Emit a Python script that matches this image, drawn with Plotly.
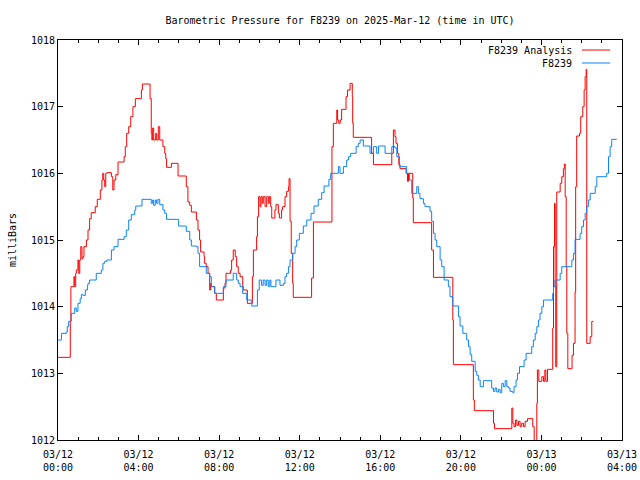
import pandas as pd
import plotly.graph_objects as go

# Hours since 2025-03-12 00:00 UTC and pressure (mb)
red_hours = [0, 0.61, 0.64, 0.79, 0.83, 0.88, 0.91, 0.99, 1.03, 1.08, 1.13, 1.19, 1.24, 1.29, 1.41,
             1.49, 1.57, 1.65, 1.85, 1.95, 2.10, 2.18, 2.22, 2.27, 2.32, 2.37, 2.43, 2.65, 2.72, 2.78,
             2.87, 2.98, 3.28, 3.34, 3.41, 3.51, 3.61, 3.72, 3.84, 4.14, 4.19, 4.57, 4.63, 4.66, 4.70,
             4.75, 4.85, 4.90, 4.98, 5.05, 5.21, 5.30, 5.35, 5.39, 5.63, 5.96, 6.37, 6.45, 6.54, 6.62,
             6.87, 6.95, 7.03, 7.08, 7.25, 7.28, 7.36, 7.45, 7.53, 7.58, 7.61, 7.78, 7.86,
             8.21, 8.29, 8.34, 8.57, 8.62, 8.70, 8.80, 8.87, 8.95, 9.04, 9.17, 9.20, 9.40, 9.65, 9.70,
             9.86, 9.90, 9.96, 10.03, 10.08, 10.14, 10.19, 10.28, 10.36, 10.44, 10.49, 10.56, 10.61,
             10.77, 10.82, 10.94, 10.99, 11.10, 11.15, 11.27, 11.35, 11.44, 11.47, 11.52, 11.58, 11.65,
             11.68, 12.59, 12.68, 13.60, 13.67, 13.84, 13.88, 13.94, 14.01, 14.08, 14.30, 14.37, 14.50,
             14.61, 14.63, 14.66, 15.57, 15.66, 16.57, 16.65, 16.73, 16.78, 16.85, 16.92, 16.98, 17.28,
             17.35, 17.40, 17.61, 17.64, 18.55, 18.64, 19.60, 19.63, 20.62, 20.67, 21.62, 21.67, 22.53,
             22.58, 22.64, 22.71, 22.78, 22.86, 22.94, 23.02, 23.11, 23.19, 23.31, 23.57, 23.64, 23.77,
             23.80, 23.87, 24.02, 24.10, 24.17, 24.22, 24.30, 24.56, 24.60, 24.65, 24.68, 24.71, 24.76,
             24.93, 25.01, 25.09, 25.14, 25.18, 25.23, 25.26, 25.31, 25.52, 25.59, 25.67, 25.70, 25.75,
             25.89, 25.95, 26.05, 26.12, 26.17, 26.22, 26.25, 26.42, 26.50, 26.58]
red_mb = [1013.24, 1013.78, 1014.30, 1014.45, 1014.30, 1014.50, 1014.55, 1014.70, 1014.50, 1014.70,
          1014.90, 1014.72, 1014.75, 1014.90, 1015.00, 1015.15, 1015.32, 1015.41, 1015.50, 1015.61,
          1015.75, 1015.90, 1016.00, 1015.90, 1015.80, 1016.00, 1016.01, 1015.95, 1015.75, 1015.90,
          1015.98, 1016.17, 1016.25, 1016.40, 1016.60, 1016.70, 1016.85, 1017.00, 1017.12, 1017.25,
          1017.34, 1017.12, 1016.60, 1016.50, 1016.68, 1016.50, 1016.60, 1016.50, 1016.70, 1016.50,
          1016.40, 1016.30, 1016.22, 1016.09, 1016.15, 1015.96, 1015.80, 1015.57, 1015.52, 1015.42,
          1015.30, 1015.15, 1015.00, 1014.82, 1014.75, 1014.65, 1014.60, 1014.50, 1014.25, 1014.35,
          1014.30, 1014.20, 1014.10,
          1014.28, 1014.35, 1014.50, 1014.55, 1014.70, 1014.85, 1014.75, 1014.60, 1014.50, 1014.45,
          1014.30, 1014.25, 1014.05, 1014.45, 1014.85, 1015.05, 1015.35, 1015.65, 1015.50, 1015.65,
          1015.55, 1015.65, 1015.50, 1015.65, 1015.55, 1015.65, 1015.50, 1015.33, 1015.45, 1015.53,
          1015.40, 1015.33, 1015.45, 1015.50, 1015.65, 1015.73, 1015.80, 1015.92, 1015.28, 1014.80,
          1014.35, 1014.14, 1014.43, 1015.27, 1016.40, 1016.75, 1016.95, 1016.80, 1016.75, 1016.80,
          1016.96, 1017.15, 1017.25, 1017.35, 1017.15, 1016.75, 1016.54, 1016.30, 1016.13, 1016.30,
          1016.65, 1016.55, 1016.45, 1016.30, 1016.13, 1016.07, 1016.00, 1015.88, 1016.00, 1015.63,
          1015.26, 1014.85, 1014.44, 1013.80, 1013.13, 1012.60, 1012.44, 1012.25, 1012.17, 1012.48,
          1012.25, 1012.20, 1012.30, 1012.22, 1012.28, 1012.20, 1012.25, 1012.20, 1012.28, 1012.32,
          1012.20, 1011.90, 1012.55, 1013.05, 1012.88, 1012.95, 1012.88, 1013.05, 1012.88, 1013.06,
          1013.68, 1014.90, 1015.55, 1014.30, 1013.10, 1015.72, 1015.85, 1015.95, 1016.07, 1016.14,
          1015.65, 1014.60, 1013.60, 1013.07, 1013.27, 1013.45, 1014.22, 1015.80, 1016.56, 1016.60,
          1016.85, 1017.00, 1017.25, 1017.45, 1017.56, 1013.45, 1013.55, 1013.78, 1013.78]

blue_hours = [0, 0.17, 0.41, 0.46, 0.53, 0.66, 0.83, 0.91, 0.99, 1.10, 1.16, 1.24, 1.36, 1.46, 1.49,
              1.57, 1.90, 2.15, 2.23, 2.32, 2.43, 2.65, 2.78, 2.98, 3.28, 3.39, 3.51, 3.64, 3.81, 3.86,
              4.17, 4.63, 4.70, 4.75, 4.83, 4.90, 4.96, 5.05, 5.21, 5.30, 5.39, 5.99, 6.37, 6.54, 6.62,
              6.87, 6.95, 7.03, 7.36, 7.53, 7.61, 7.78,
              8.21, 8.34, 8.70, 8.87, 8.95, 9.04, 9.17, 9.37, 9.62, 9.90, 9.99, 10.11, 10.19, 10.28,
              10.36, 10.44, 10.52, 10.57, 10.82, 11.02, 11.19, 11.27, 11.35, 11.44, 11.52, 11.65,
              11.77, 11.85, 11.98, 12.18, 12.35, 12.56, 12.71, 12.92, 13.09, 13.21, 13.45, 13.54,
              13.92, 14.00, 14.17, 14.33, 14.42, 14.53, 14.80, 14.91, 15.00, 15.16, 15.49, 15.66,
              15.82, 15.91, 16.24, 16.57, 16.73, 16.82, 16.95, 17.31, 17.45, 17.56, 17.81, 17.89,
              17.97, 18.14, 18.22, 18.47, 18.55, 18.64, 18.72, 18.80, 18.97, 19.05, 19.17, 19.38,
              19.46, 19.60, 19.88, 19.96, 20.10, 20.29, 20.38, 20.46, 20.54, 20.71, 20.79, 20.87,
              20.96, 21.12, 21.53, 21.62, 21.70, 21.78, 21.87, 21.95, 22.03, 22.11, 22.20, 22.28,
              22.36, 22.44, 22.58, 22.64, 22.74, 22.81, 22.91, 23.14, 23.24, 23.52, 23.60, 23.69,
              23.77, 23.85, 23.93, 24.02, 24.10, 24.56, 24.60, 24.68, 24.93, 25.01, 25.51, 25.59,
              25.67, 25.92, 26.00, 26.09, 26.17, 26.25, 26.33, 26.42, 26.67, 26.75, 27.24, 27.33,
              27.41, 27.49, 27.74]
blue_mb = [1013.50, 1013.60, 1013.62, 1013.70, 1013.78, 1013.90, 1013.98, 1013.93, 1014.05, 1014.12,
           1014.18, 1014.17, 1014.25, 1014.32, 1014.35, 1014.40, 1014.50, 1014.55, 1014.65, 1014.68,
           1014.70, 1014.85, 1014.90, 1015.01, 1015.05, 1015.15, 1015.30, 1015.38, 1015.45, 1015.51,
           1015.61, 1015.55, 1015.60, 1015.52, 1015.60, 1015.55, 1015.61, 1015.53, 1015.45, 1015.40,
           1015.31, 1015.21, 1015.13, 1015.00, 1014.91, 1014.90, 1014.80, 1014.60, 1014.50, 1014.45,
           1014.30, 1014.20,
           1014.30, 1014.40, 1014.50, 1014.40, 1014.35, 1014.30, 1014.20, 1014.10, 1014.01, 1014.25,
           1014.40, 1014.32, 1014.40, 1014.32, 1014.40, 1014.30, 1014.40, 1014.30, 1014.40, 1014.32,
           1014.35, 1014.45, 1014.50, 1014.60, 1014.70, 1014.80, 1014.90, 1015.00, 1015.10, 1015.21,
           1015.30, 1015.40, 1015.51, 1015.61, 1015.71, 1015.81, 1015.91, 1016.00, 1016.10, 1016.00,
           1016.10, 1016.20, 1016.25, 1016.30, 1016.40, 1016.45, 1016.50, 1016.41, 1016.30, 1016.40,
           1016.30, 1016.41, 1016.30, 1016.40, 1016.38, 1016.25, 1016.10, 1016.00, 1015.90, 1015.70,
           1015.80, 1015.70, 1015.62, 1015.55, 1015.50, 1015.43, 1015.28, 1015.10, 1015.00, 1014.90,
           1014.70, 1014.60, 1014.40, 1014.30, 1014.15, 1014.01, 1013.85, 1013.71, 1013.60, 1013.50,
           1013.40, 1013.28, 1013.18, 1013.03, 1012.97, 1012.90, 1012.80, 1012.89, 1012.78, 1012.73,
           1012.78, 1012.72, 1012.76, 1012.71, 1012.85, 1012.80, 1012.89, 1012.80, 1012.78, 1012.73,
           1012.71, 1012.80, 1012.90, 1013.00, 1013.10, 1013.20, 1013.30, 1013.40, 1013.50, 1013.60,
           1013.70, 1013.80, 1013.90, 1014.00, 1014.10, 1014.20, 1014.30, 1014.40, 1014.50, 1014.60,
           1014.70, 1014.80, 1015.01, 1015.10, 1015.20, 1015.30, 1015.40, 1015.50, 1015.60, 1015.70,
           1015.80, 1015.95, 1016.00, 1016.25, 1016.40, 1016.51, 1016.51]

series_names = ["F8239 Analysis", "F8239"]
series_colors = ["#ff0000", "#0a84ff"]
start = pd.Timestamp("2025-03-12 00:00")
end = pd.Timestamp("2025-03-13 04:00")

red_t = start + pd.to_timedelta(red_hours, unit="h")
blue_t = start + pd.to_timedelta(blue_hours, unit="h")

FONT = "DejaVu Sans Mono"

fig = go.Figure()
fig.add_trace(go.Scatter(x=red_t, y=red_mb, mode="lines", name=series_names[0],
                         line=dict(color=series_colors[0], width=1, shape="hv")))
fig.add_trace(go.Scatter(x=blue_t, y=blue_mb, mode="lines", name=series_names[1],
                         line=dict(color=series_colors[1], width=1, shape="hv")))

axis_common = dict(showline=True, linecolor="black", linewidth=1, mirror="allticks",
                   ticks="inside", ticklen=5, tickcolor="black", showgrid=False, zeroline=False,
                   tickfont=dict(family=FONT, size=10, color="black"))

fig.update_xaxes(range=[start, end], dtick=4 * 3600000, tick0=start,
                 tickformat="%m/%d<br>%H:%M", ticklabelstandoff=5,
                 minor=dict(dtick=3600000, ticks="inside", ticklen=3, tickcolor="black", showgrid=False),
                 **axis_common)
fig.update_yaxes(range=[1012, 1018], dtick=1,
                 title=dict(text="milliBars", font=dict(family=FONT, size=10, color="black"), standoff=12),
                 **axis_common)

# legend drawn gnuplot-style (text right, sample line after it)
legend_y = [0.975, 0.9425]
for name, color, ly in zip(series_names, series_colors, legend_y):
    fig.add_annotation(xref="paper", yref="paper", x=0.915, y=ly, text=name, showarrow=False,
                       xanchor="right", yanchor="middle",
                       font=dict(family=FONT, size=10, color="black"))
    fig.add_shape(type="line", xref="paper", yref="paper", x0=0.929, x1=0.979, y0=ly, y1=ly,
                  line=dict(color=color, width=1))

fig.update_layout(
    width=640, height=480,
    margin=dict(l=58, r=18, t=40, b=40, autoexpand=False),
    paper_bgcolor="white", plot_bgcolor="white",
    showlegend=False,
    title=dict(text="Barometric Pressure for F8239 on 2025-Mar-12 (time in UTC)",
               x=0.5, xref="paper", xanchor="center", y=1 - 20 / 480, yanchor="middle",
               font=dict(family=FONT, size=10, color="black")),
    font=dict(family=FONT, size=10, color="black"),
)

fig.write_html("out.html")
